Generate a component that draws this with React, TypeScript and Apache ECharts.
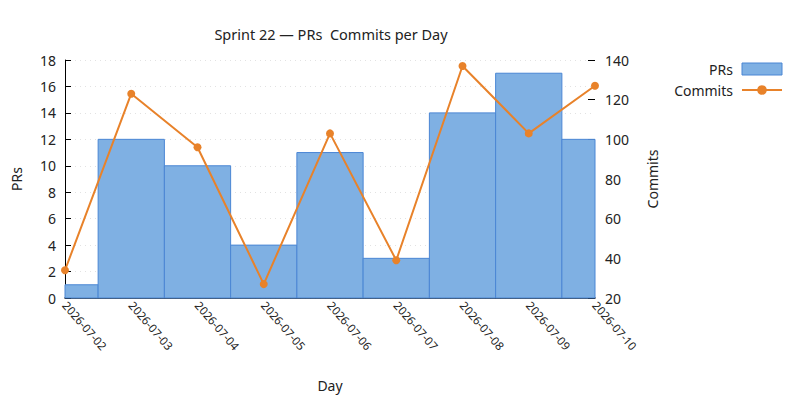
import { useEffect, useRef } from "react";
import * as echarts from "echarts";

const days = [
  "2026-07-02",
  "2026-07-03",
  "2026-07-04",
  "2026-07-05",
  "2026-07-06",
  "2026-07-07",
  "2026-07-08",
  "2026-07-09",
  "2026-07-10",
];
const prs = [1, 12, 10, 4, 11, 3, 14, 17, 12];
const commits = [34, 123, 96, 27, 103, 39, 137, 103, 127];

const FONT = "Noto Sans";
const INK = "#222";
const BAR_FILL = "#7fb0e3";
const BAR_EDGE = "#4a86d4";
const LINE = "#e8822a";

export default function App() {
  const ref = useRef<HTMLDivElement | null>(null);

  useEffect(() => {
    document.body.style.margin = "0";
    if (!ref.current) return;
    const chart = echarts.init(ref.current, null, { renderer: "svg" });

    // bars span a full day centred on each tick, clipped to the plot area (half bars at both ends)
    const renderBar = (params: any, api: any) => {
      const x = api.value(0);
      const y = api.value(1);
      const a = api.coord([x - 0.5, y]);
      const b = api.coord([x + 0.5, 0]);
      const cs = params.coordSys;
      const shape = echarts.graphic.clipRectByRect(
        { x: a[0], y: a[1], width: b[0] - a[0], height: b[1] - a[1] },
        { x: cs.x, y: cs.y, width: cs.width, height: cs.height }
      );
      if (!shape) return null;
      return {
        type: "rect",
        shape,
        style: { fill: BAR_FILL, stroke: BAR_EDGE, lineWidth: 1 },
      };
    };

    chart.setOption({
      animation: false,
      textStyle: { fontFamily: FONT, color: INK },
      title: {
        text: "Sprint 22 — PRs  Commits per Day",
        left: 326,
        top: 21,
        textAlign: "center",
        textStyle: { fontFamily: FONT, fontSize: 14.5, fontWeight: "normal", color: INK },
      },
      legend: {
        orient: "vertical",
        right: 12,
        top: 57,
        align: "right",
        itemWidth: 40,
        itemHeight: 12,
        itemGap: 7,
        textStyle: { fontFamily: FONT, fontSize: 14, color: INK, padding: [0, 4, 0, 0] },
        data: [
          {
            name: "PRs",
            icon: "rect",
            itemStyle: { color: BAR_FILL, borderColor: BAR_EDGE, borderWidth: 1 },
          },
          { name: "Commits" },
        ],
      },
      grid: { left: 65, right: 205, top: 60, bottom: 102 },
      xAxis: {
        type: "value",
        min: 0,
        max: days.length - 1,
        interval: 1,
        name: "Day",
        nameLocation: "middle",
        nameGap: 80,
        nameTextStyle: { fontFamily: FONT, fontSize: 14, color: INK },
        axisLine: { show: true, lineStyle: { color: "#000", width: 1.5 } },
        axisTick: { show: false },
        splitLine: { show: false },
        axisLabel: {
          rotate: -49,
          fontSize: 11.5,
          color: INK,
          margin: 5,
          formatter: (v: number) => days[v] ?? "",
        },
      },
      yAxis: [
        {
          type: "value",
          min: 0,
          max: 18,
          interval: 2,
          name: "PRs",
          nameLocation: "middle",
          nameGap: 42,
          nameTextStyle: { fontFamily: FONT, fontSize: 14, color: INK },
          axisLine: { show: true, lineStyle: { color: "#000", width: 1 } },
          axisTick: { show: true, inside: true, length: 6, lineStyle: { color: "#000" } },
          axisLabel: { fontSize: 14, color: INK, margin: 9 },
          splitLine: { show: true, lineStyle: { color: "#e2e2e2", type: [1, 4] } },
        },
        {
          type: "value",
          min: 20,
          max: 140,
          interval: 20,
          position: "right",
          name: "Commits",
          nameLocation: "middle",
          nameGap: 50,
          nameTextStyle: { fontFamily: FONT, fontSize: 14, color: INK },
          axisLine: { show: false },
          axisTick: { show: true, inside: true, length: 7, lineStyle: { color: "#000" } },
          axisLabel: { fontSize: 14, color: INK, margin: 10 },
          splitLine: { show: false },
        },
      ],
      series: [
        {
          name: "PRs",
          type: "custom",
          renderItem: renderBar,
          encode: { x: 0, y: 1 },
          data: prs.map((v, i) => [i, v]),
          itemStyle: { color: BAR_FILL, borderColor: BAR_EDGE, borderWidth: 1 },
          z: 2,
        },
        {
          name: "Commits",
          type: "line",
          yAxisIndex: 1,
          clip: false,
          data: commits.map((v, i) => [i, v]),
          symbol: "circle",
          symbolSize: 8,
          itemStyle: { color: LINE },
          lineStyle: { color: LINE, width: 2 },
          z: 5,
        },
      ],
    });

    return () => chart.dispose();
  }, []);

  return <div ref={ref} style={{ width: 800, height: 400 }} />;
}
